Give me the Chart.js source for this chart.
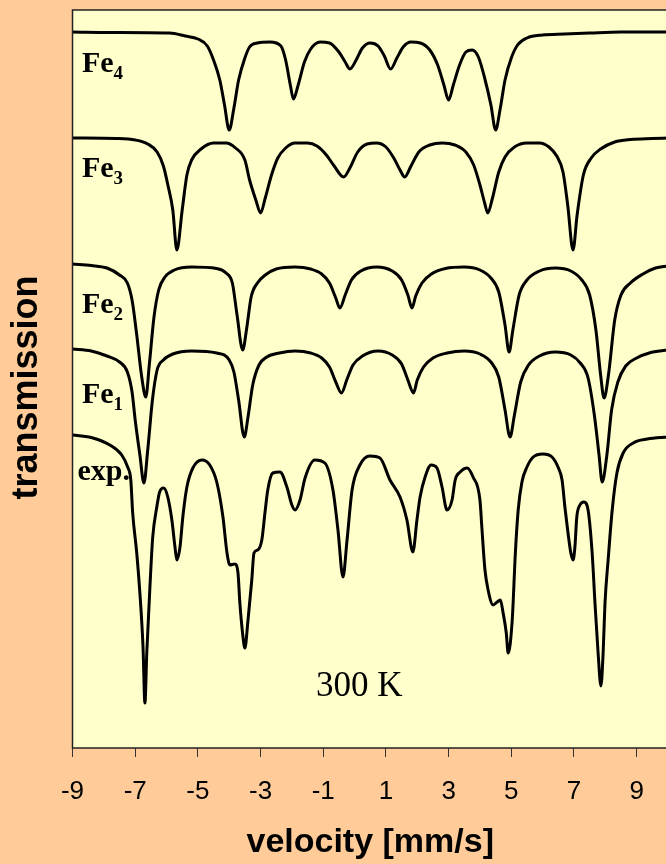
<!DOCTYPE html>
<html>
<head>
<meta charset="utf-8">
<script src="https://cdn.jsdelivr.net/npm/chart.js@4/dist/chart.umd.min.js"></script>
<style>
  html, body { margin: 0; padding: 0; background: #FFCC99; overflow: hidden; width: 666px; height: 864px; }
  #c { position: absolute; left: 0; top: 0; }
</style>
</head>
<body>
<canvas id="c" width="668" height="864"></canvas>
<script>
// velocity ticks (mm/s)
const velocityTicks = [-9, -7, -5, -3, -1, 1, 3, 5, 7, 9];

// Stacked Mössbauer spectra, [velocity mm/s, transmission (a.u., offset as plotted)]
const fe4 = [[-9,716],[-7.8,715.5],[-5.9,715],[-5.4,712],[-5.0,709],[-4.7,702],[-4.5,688],[-4.3,668],[-4.15,643],[-4.0,618],
  [-3.85,640],[-3.7,668],[-3.5,690],[-3.35,701],[-3.1,705],[-2.7,706],[-2.35,702],[-2.2,688],[-2.05,663],[-1.95,649],
  [-1.8,663],[-1.6,686],[-1.4,699],[-1.1,706],[-0.8,705],[-0.5,696],[-0.3,686],[-0.15,679],[0.05,688],[0.25,700],
  [0.5,705],[0.75,702],[0.95,692],[1.15,679],[1.35,690],[1.55,701],[1.8,706],[2.1,705],[2.4,698],[2.65,683],
  [2.85,663],[3.0,648],[3.15,663],[3.35,683],[3.55,696],[3.75,698],[3.95,691],[4.15,670],[4.35,643],[4.5,618],
  [4.65,640],[4.8,668],[5.0,690],[5.2,703],[5.5,710],[6.0,713],[6.7,714],[7.5,715],[8.5,716],[10,716]];

const fe3 = [[-9,610],[-7.6,609.5],[-7.0,608],[-6.6,604],[-6.3,596],[-6.1,582],[-5.95,562],[-5.8,538],[-5.67,498],[-5.5,538],
  [-5.35,573],[-5.2,588],[-4.9,599],[-4.5,605],[-4.1,605],[-3.8,600],[-3.5,588],[-3.35,568],[-3.15,548],[-3.0,535],
  [-2.85,550],[-2.65,573],[-2.45,590],[-2.2,600],[-1.9,605],[-1.5,605],[-1.2,602],[-0.9,593],[-0.65,582],[-0.35,571],
  [-0.15,580],[0.1,596],[0.4,604],[0.7,605],[1.0,601],[1.25,590],[1.45,578],[1.6,571],[1.8,582],[2.05,596],
  [2.4,603],[2.8,605],[3.2,603],[3.55,596],[3.8,583],[4.0,563],[4.15,545],[4.25,535],[4.4,550],[4.6,576],
  [4.8,591],[5.1,601],[5.5,605],[5.9,605],[6.2,601],[6.45,592],[6.65,576],[6.8,543],[6.97,498],[7.1,533],
  [7.3,573],[7.55,590],[7.85,599],[8.3,606],[8.8,608.5],[9.5,609.5],[10,610]];

const fe2 = [[-9,484],[-8.4,482.5],[-7.9,480],[-7.5,473],[-7.25,465],[-7.1,448],[-6.95,413],[-6.8,373],[-6.66,351],[-6.55,383],
  [-6.4,431],[-6.25,458],[-6.05,471],[-5.75,478],[-5.2,481],[-4.4,479.5],[-4.1,475],[-3.9,465],[-3.75,433],[-3.57,398],
  [-3.45,418],[-3.3,451],[-3.1,465],[-2.85,473],[-2.5,479],[-1.9,481],[-1.4,479],[-1.05,474],[-0.8,465],[-0.6,450],
  [-0.47,440],[-0.3,453],[-0.1,468],[0.2,477],[0.7,481],[1.2,477],[1.5,468],[1.7,453],[1.83,440],[1.95,452],
  [2.15,465],[2.45,474],[2.9,479.5],[3.5,481],[4.0,478],[4.35,470],[4.6,456],[4.8,423],[4.93,396],[5.05,418],
  [5.25,453],[5.5,468],[5.9,477],[6.4,480],[6.9,477],[7.25,468],[7.5,453],[7.7,418],[7.85,373],[7.96,350],
  [8.1,373],[8.3,428],[8.5,453],[8.8,465],[9.2,474],[9.6,480],[10,482]];

const fe1 = [[-9,399],[-8.4,397],[-7.9,392],[-7.5,386],[-7.25,376],[-7.1,356],[-7.0,328],[-6.85,293],[-6.72,265],[-6.6,298],
  [-6.45,348],[-6.3,378],[-6.1,388],[-5.8,394],[-5.2,397],[-4.4,395],[-4.0,388],[-3.85,376],[-3.7,348],[-3.52,311],
  [-3.4,331],[-3.25,363],[-3.05,383],[-2.8,391],[-2.4,395],[-1.9,397],[-1.4,395],[-1.05,390],[-0.8,381],[-0.6,366],
  [-0.42,355],[-0.25,368],[-0.05,383],[0.25,392],[0.75,397],[1.2,393],[1.5,384],[1.7,368],[1.88,355],[2.0,368],
  [2.2,381],[2.5,390],[2.95,395],[3.5,397],[4.0,394],[4.35,386],[4.6,371],[4.8,338],[4.96,311],[5.1,333],
  [5.3,366],[5.55,383],[5.9,392],[6.4,396],[6.9,393],[7.2,385],[7.45,370],[7.65,333],[7.8,293],[7.9,266],
  [8.05,293],[8.2,338],[8.4,366],[8.65,382],[9.0,390],[9.4,395],[10,398]];

const expData = [[-9.0,313],[-8.35,310],[-7.81,303],[-7.43,293],[-7.24,281],[-7.14,268],[-7.08,235],[-6.95,195],[-6.85,155],[-6.75,101],
  [-6.69,45],[-6.63,95],[-6.53,161],[-6.44,211],[-6.31,241],[-6.22,256],[-6.09,260],[-5.96,251],[-5.83,228],[-5.73,201],
  [-5.67,188],[-5.57,201],[-5.48,231],[-5.35,261],[-5.16,280],[-4.87,288],[-4.62,283],[-4.39,265],[-4.2,231],[-4.07,195],
  [-3.98,183],[-3.82,184],[-3.72,175],[-3.66,145],[-3.56,111],[-3.5,100],[-3.4,128],[-3.28,168],[-3.21,195],[-3.09,198],
  [-2.96,208],[-2.86,235],[-2.77,258],[-2.61,275],[-2.38,276],[-2.16,261],[-2.0,243],[-1.9,238],[-1.74,248],[-1.58,270],
  [-1.27,288],[-0.95,285],[-0.69,258],[-0.53,218],[-0.37,171],[-0.24,208],[-0.08,258],[0.17,283],[0.49,292],[0.81,290],
  [1.13,268],[1.45,251],[1.67,228],[1.86,196],[1.99,228],[2.09,251],[2.25,271],[2.44,283],[2.63,280],[2.79,261],
  [2.95,238],[3.11,248],[3.21,268],[3.37,276],[3.59,280],[3.78,271],[4.0,248],[4.06,221],[4.16,178],[4.26,158],
  [4.42,143],[4.55,146],[4.65,148],[4.74,135],[4.84,115],[4.9,95],[5.03,128],[5.13,195],[5.22,238],[5.34,266],
  [5.5,281],[5.7,291],[6.01,294],[6.3,291],[6.49,281],[6.62,268],[6.71,241],[6.81,215],[6.9,195],[6.97,188],
  [7.03,201],[7.09,231],[7.19,243],[7.32,246],[7.45,238],[7.58,195],[7.67,145],[7.77,95],[7.86,62],[7.93,95],
  [7.99,145],[8.09,188],[8.22,238],[8.37,275],[8.57,295],[8.89,305],[9.34,309],[10,311]];

// curve labels: [text, subscript, velocity, transmission]
const curveLabels = [
  ['Fe', '4', -8.7, 676],
  ['Fe', '3', -8.7, 571],
  ['Fe', '2', -8.7, 435],
  ['Fe', '1', -8.7, 345],
  ['exp.', '', -8.84, 268]
];
const tempLabel = ['300 K', -1.23, 52];

const toXY = arr => arr.map(p => ({x: p[0], y: p[1]}));

const framePlugin = {
  id: 'frame',
  beforeDraw(chart) {
    const {ctx, chartArea: a} = chart;
    ctx.save();
    ctx.fillStyle = '#FFFFCC';
    ctx.fillRect(a.left, a.top, a.right - a.left, a.bottom - a.top);
    ctx.restore();
  },
  afterDraw(chart) {
    const {ctx, chartArea: a, scales} = chart;
    ctx.save();
    ctx.strokeStyle = '#222';
    ctx.lineWidth = 1.5;
    ctx.strokeRect(a.left, a.top, a.right - a.left, a.bottom - a.top);
    // curve labels
    ctx.fillStyle = '#000';
    ctx.textBaseline = 'alphabetic';
    ctx.textAlign = 'left';
    for (const [t, sub, v, tr] of curveLabels) {
      const x = scales.x.getPixelForValue(v);
      const y = scales.y.getPixelForValue(tr);
      ctx.font = 'bold 30px "Liberation Serif", "Times New Roman", serif';
      ctx.fillText(t, x, y);
      if (sub) {
        const w = ctx.measureText(t).width;
        ctx.font = 'bold 19px "Liberation Serif", "Times New Roman", serif';
        ctx.fillText(sub, x + w, y + 7);
      }
    }
    ctx.font = '35px "Liberation Serif", "Times New Roman", serif';
    ctx.fillText(tempLabel[0], scales.x.getPixelForValue(tempLabel[1]), scales.y.getPixelForValue(tempLabel[2]));
    // y axis title
    ctx.translate(37, (a.top + a.bottom) / 2 + 8.5);
    ctx.rotate(-Math.PI / 2);
    ctx.textAlign = 'center';
    ctx.font = 'bold 36px "Liberation Sans", Arial, sans-serif';
    ctx.fillText('transmission', 0, 0);
    ctx.restore();
  }
};

const mk = (d) => ({
  data: toXY(d),
  borderColor: '#000',
  borderWidth: 3,
  pointRadius: 0,
  fill: false,
  cubicInterpolationMode: 'monotone'
});

new Chart(document.getElementById('c'), {
  type: 'line',
  data: { datasets: [mk(fe4), mk(fe3), mk(fe2), mk(fe1), mk(expData)] },
  options: {
    responsive: false,
    animation: false,
    layout: { padding: { top: 10, left: 0, right: 0, bottom: 0 } },
    plugins: { legend: { display: false }, tooltip: { enabled: false } },
    scales: {
      x: {
        type: 'linear',
        min: -9,
        max: 10,
        afterBuildTicks(axis) { axis.ticks = velocityTicks.map(v => ({ value: v })); },
        afterFit(s) { s.height = 116; },
        grid: { drawOnChartArea: false, drawTicks: true, tickLength: 9, color: '#333', tickColor: '#333', lineWidth: 1 },
        border: { display: false },
        ticks: {
          color: '#000',
          padding: 19,
          maxRotation: 0,
          autoSkip: false,
          font: { family: '"Liberation Sans Narrow", "Liberation Sans", Arial, sans-serif', size: 26 }
        },
        title: {
          display: true,
          text: 'velocity [mm/s]',
          color: '#000',
          padding: { top: 0, bottom: 1 },
          font: { family: '"Liberation Sans", Arial, sans-serif', size: 34, weight: 'bold' }
        }
      },
      y: {
        type: 'linear',
        min: 0,
        max: 738,
        afterFit(s) { s.width = 72.5; },
        ticks: { display: false },
        grid: { display: false },
        border: { display: false }
      }
    }
  },
  plugins: [framePlugin]
});
</script>
</body>
</html>
